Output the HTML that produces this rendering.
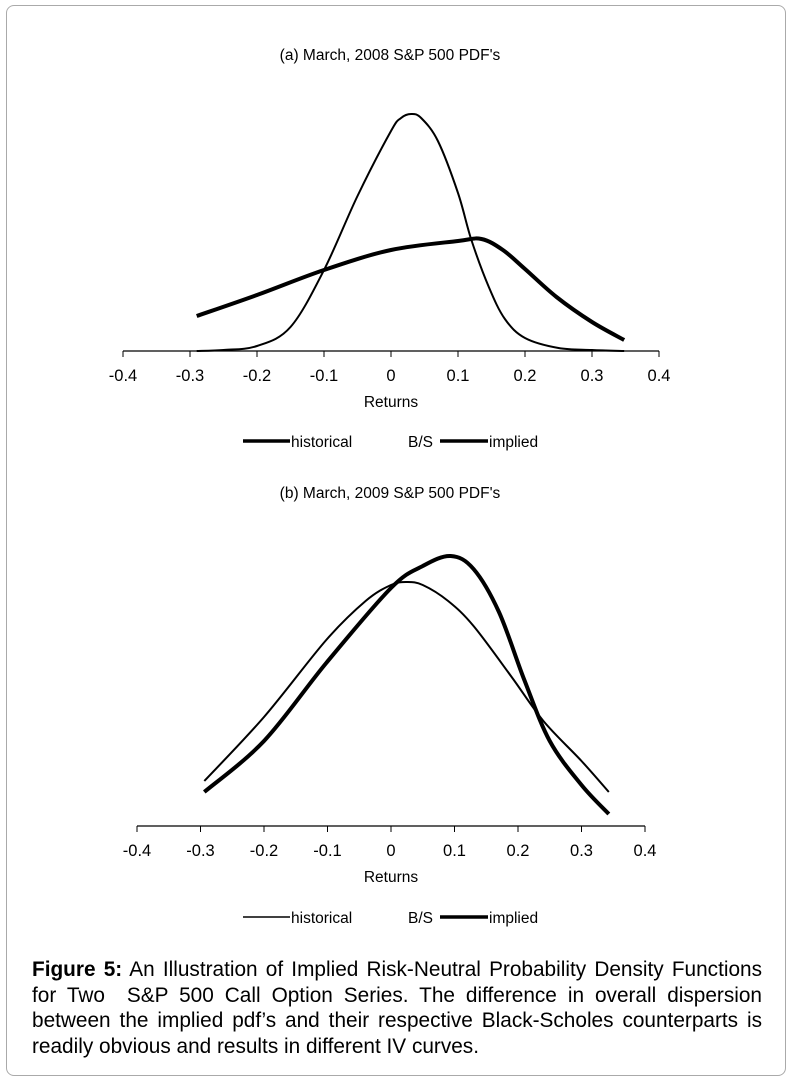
<!DOCTYPE html>
<html><head><meta charset="utf-8"><style>
body{margin:0;background:#fff;}
svg text{font-family:"Liberation Sans",Arial,sans-serif;fill:#000;}
.cap{position:absolute;left:32px;top:957px;width:730px;font:20.8px/25.6px "Liberation Sans",Arial,sans-serif;text-align:justify;color:#000;}
</style></head><body>
<div style="position:absolute;left:6px;top:5px;width:778px;height:1069px;border:1px solid #aaa;border-radius:8px;"></div>
<svg id="s" width="791" height="1080" style="position:absolute;left:0;top:0"></svg>
<div class="cap"><b>Figure 5:</b> An Illustration of Implied Risk-Neutral Probability Density Functions for Two&nbsp; S&amp;P 500 Call Option Series. The difference in overall dispersion between the implied pdf’s and their respective Black-Scholes counterparts is readily obvious and results in different IV curves.</div>
<script>
const ticks=[-0.4,-0.3,-0.2,-0.1,0,0.1,0.2,0.3,0.4];
const tickLabels=["-0.4","-0.3","-0.2","-0.1","0","0.1","0.2","0.3","0.4"];
const aHistX=[-0.29,-0.25,-0.2,-0.15,-0.1,-0.05,0,0.015,0.03,0.045,0.07,0.1,0.12,0.146,0.17,0.2,0.25,0.3,0.348];
const aHistY=[0,1,5,24,81,155,220,233,237,233,210,158,111,64,32,13,3,1,0];
const aImpX=[-0.29,-0.2,-0.1,0,0.1,0.135,0.167,0.2,0.247,0.3,0.348];
const aImpY=[35,56,81,101,110,112,101,82,54,29,11];
const bHistX=[-0.294,-0.2,-0.102,-0.04,0,0.025,0.05,0.09,0.13,0.19,0.24,0.3,0.343];
const bHistY=[45,109,186,225,241,244,241,225,200,149,105,65,34];
const bImpX=[-0.294,-0.2,-0.102,0,0.05,0.094,0.13,0.17,0.21,0.25,0.3,0.343];
const bImpY=[34,85,163,238,260,270,257,214,146,85,41,12];
const NS="http://www.w3.org/2000/svg";
const svg=document.getElementById('s');
function mk(t,a,p){const e=document.createElementNS(NS,t);for(const k in a)e.setAttribute(k,a[k]);(p||svg).appendChild(e);return e;}
function path(pts){let d=`M${pts[0][0]},${pts[0][1]}`;for(let i=0;i<pts.length-1;i++){const p0=pts[i-1]||pts[i],p1=pts[i],p2=pts[i+1],p3=pts[i+2]||p2;
d+=` C${p1[0]+(p2[0]-p0[0])/6},${p1[1]+(p2[1]-p0[1])/6} ${p2[0]-(p3[0]-p1[0])/6},${p2[1]-(p3[1]-p1[1])/6} ${p2[0]},${p2[1]}`;}return d;}
function chart(o){
 const g=mk('g',{});
 
 
 const sx=v=>o.x0+(v+0.4)/0.8*(o.x1-o.x0), sy=v=>o.ay-v;
 const t=mk('text',{x:390,y:o.ty,'font-size':15.5,'text-anchor':'middle'},g);t.textContent=o.title;
 
 const ax=mk('line',{x1:o.x0,x2:o.x1,y1:o.ay,y2:o.ay,stroke:'#000','stroke-width':1.2},g);
 
 ticks.forEach((v,i)=>{const l=mk('line',{x1:sx(v),x2:sx(v),y1:o.ay,y2:o.ay+6,stroke:'#000'},g);
  
  const tl=mk('text',{x:sx(v),y:o.ay+30,'font-size':16.5,'text-anchor':'middle'},g);tl.textContent=tickLabels[i];
  });
 const xt=mk('text',{x:391,y:o.ay+56,'font-size':15.5,'text-anchor':'middle'},g);xt.textContent='Returns';
 
 const h=mk('path',{d:path(o.hx.map((v,i)=>[sx(v),sy(o.hy[i])])),fill:'none',stroke:'#000','stroke-width':o.hw},g);
 
 const im=mk('path',{d:path(o.ix.map((v,i)=>[sx(v),sy(o.iy[i])])),fill:'none',stroke:'#000','stroke-width':4},g);
 
 const ly=o.ly;
 const l1=mk('line',{x1:243,x2:290,y1:ly,y2:ly,stroke:'#000','stroke-width':o.lw},g);
 
 const t1=mk('text',{x:291,y:ly+6,'font-size':15.5},g);t1.textContent='historical';
 
 const t2=mk('text',{x:408,y:ly+6,'font-size':15.5},g);t2.textContent='B/S';
 
 const l2=mk('line',{x1:440,x2:488,y1:ly,y2:ly,stroke:'#000','stroke-width':3.5},g);
 
 const t3=mk('text',{x:489,y:ly+6,'font-size':15.5},g);t3.textContent='implied';
 
}
chart({name:'chart-march-2008',title:"(a) March, 2008 S&P 500 PDF's",ty:60,x0:123,x1:659,ay:351,hx:aHistX,hy:aHistY,ix:aImpX,iy:aImpY,hw:2,lw:3.5,ly:441});
chart({name:'chart-march-2009',title:"(b) March, 2009 S&P 500 PDF's",ty:498,x0:137,x1:645,ay:826,hx:bHistX,hy:bHistY,ix:bImpX,iy:bImpY,hw:2,lw:1.5,ly:917});
</script>
</body></html>
